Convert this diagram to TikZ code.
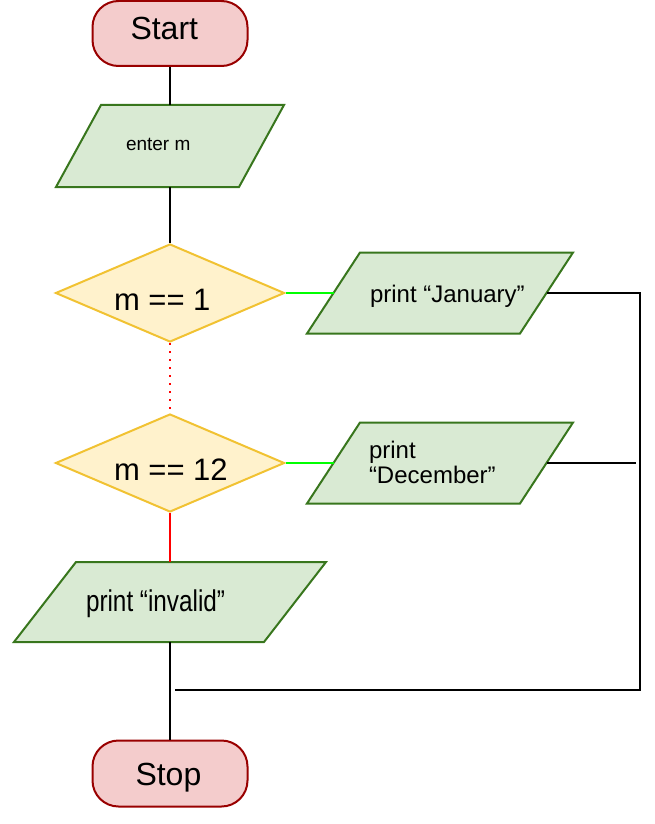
\documentclass[tikz,border=0pt]{standalone}
\usepackage{fontspec}
\setmainfont{Liberation Sans}
\usetikzlibrary{shapes.geometric,calc}
\definecolor{termfill}{HTML}{F4CCCC}
\definecolor{termline}{HTML}{990000}
\definecolor{iofill}{HTML}{D9EAD3}
\definecolor{ioline}{HTML}{38761D}
\definecolor{decfill}{HTML}{FFF2CC}
\definecolor{decline}{HTML}{F1C232}
\definecolor{yesline}{HTML}{00FF00}
\definecolor{noline}{HTML}{FF0000}
\pgfdeclarelayer{bg}
\pgfsetlayers{bg,main}
\tikzset{
  terminal/.style={rectangle, draw=termline, fill=termfill, line width=2pt,
    rounded corners=26pt, minimum width=155pt, minimum height=65pt, inner sep=0pt},
  iobox/.style={rectangle, inner sep=0pt, outer sep=0pt},
  iopoly/.style={draw=ioline, fill=iofill, line width=2pt, line join=miter},
  decision/.style={diamond, draw=decline, fill=decfill, line width=2pt,
    minimum width=229pt, minimum height=98pt, inner sep=0pt, aspect=2.34},
  txt/.style={inner sep=0pt, outer sep=0pt, anchor=base west, text=black,
    font=\fontsize{24}{25}\selectfont},
  flow/.style={line width=2pt, draw=black},
  yesflow/.style={line width=2pt, draw=yesline},
  noflow/.style={line width=2pt, draw=noline},
}
\newcommand\paragram[2]{%
  \begin{pgfonlayer}{bg}
    \draw[iopoly] ([xshift=#2]#1.north west) -- ([xshift=#2]#1.north east)
      -- ([xshift=-#2]#1.south east) -- ([xshift=-#2]#1.south west) -- cycle;
  \end{pgfonlayer}}
\begin{document}
\begin{tikzpicture}[x=1pt,y=-1pt]
\useasboundingbox (0,0) rectangle (655,824);

% terminals
\node[terminal] (start) at (170,33.5) {};
\node[txt, font=\fontsize{32}{36}\selectfont] (starttext) at (130.5,40) {Start};
\node[terminal, minimum height=66pt] (stop) at (170,773.5) {};
\node[txt, font=\fontsize{32}{36}\selectfont] (stoptext) at (135.5,785) {Stop};

% input
\node[iobox, minimum width=183pt, minimum height=82pt] (enter) at (170,146) {};
\paragram{enter}{22.5pt}
\node[txt, font=\fontsize{19}{22}\selectfont] (entertext) at (126,150) {enter m};

% decisions
\node[decision] (d1) at (170,293) {};
\node[txt, font=\fontsize{31}{36}\selectfont] (d1text) at (114,310) {m == 1};
\node[decision] (d12) at (170,463) {};
\node[txt, font=\fontsize{31}{36}\selectfont] (d12text) at (114,480) {m == 12};

% outputs
\node[iobox, minimum width=213pt, minimum height=81pt] (jan) at (440,293) {};
\paragram{jan}{26.5pt}
\node[txt] (jantext) at (370,302) {print “January”};

\node[iobox, minimum width=213pt, minimum height=81pt] (dec) at (440,463) {};
\paragram{dec}{26.5pt}
\node[txt, align=left] (dectext) at (369,483) {print\\“December”};

\node[iobox, minimum width=250pt, minimum height=80pt] (inv) at (170,602) {};
\paragram{inv}{31pt}
\node[txt, font=\fontsize{30}{34}\selectfont] (invtext) at (86,611.7) {\scalebox{0.81}[1]{print “invalid”}};

% connectors
\coordinate (rtop) at (640,293);
\coordinate (rbot) at (640,690);
\coordinate (join) at (175,690);
\coordinate (decend) at (636,463);

\draw[flow] (start.south) -- (enter.north);
\draw[flow] (enter.south) -- (d1.north);
\draw[noflow, dash pattern=on 2pt off 6pt] (d1.south) -- (d12.north);
\draw[yesflow] (d1.east) -- (jan.west);
\draw[yesflow] (d12.east) -- (dec.west);
\draw[noflow] (d12.south) -- (inv.north);
\draw[flow] (inv.south) -- (stop.north);
\draw[flow] (jan.east) -- (rtop) -- (rbot) -- (join);
\draw[flow] (dec.east) -- (decend);
\end{tikzpicture}
\end{document}
